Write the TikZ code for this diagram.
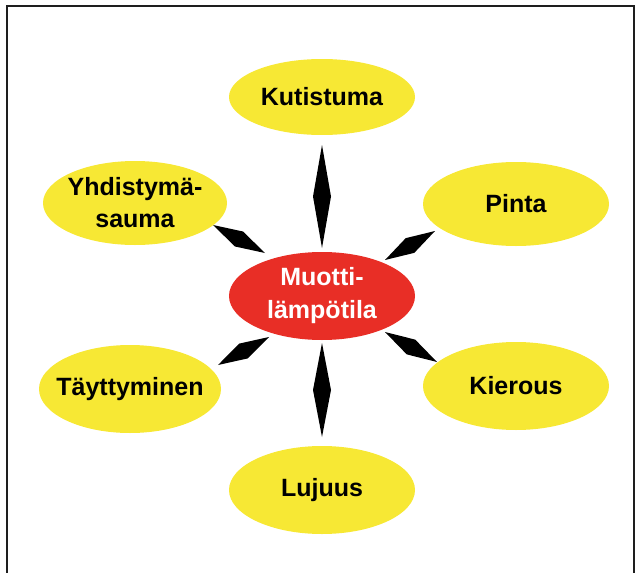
\documentclass[tikz,border=0pt]{standalone}
\usepackage{fontspec}
\setmainfont{Liberation Sans}
\usetikzlibrary{shapes.geometric,calc}
\definecolor{yel}{RGB}{247,232,52}
\definecolor{redc}{RGB}{232,46,38}
\definecolor{framec}{RGB}{30,30,30}
\tikzset{
  leaf/.style={ellipse, fill=yel, inner sep=0pt, minimum width=186pt, minimum height=86pt},
  hub/.style={ellipse, fill=redc, inner sep=0pt, minimum width=186pt, minimum height=88pt},
  leaftext/.style={font=\fontsize{25}{32}\selectfont\bfseries, text=black, align=center, inner sep=0pt},
  hubtext/.style={font=\fontsize{25}{33}\selectfont\bfseries, text=white, align=center, inner sep=0pt},
}
\newcommand{\spike}[3]{%
  \fill[black] (#1) -- ($($(#1)!0.5!(#2)$)!#3!90:(#2)$) -- (#2) -- ($($(#1)!0.5!(#2)$)!#3!-90:(#2)$) -- cycle;}
\begin{document}
\begin{tikzpicture}[x=1pt,y=-1pt]
\useasboundingbox (0,0) rectangle (643,573);
\draw[framec, line width=1.4pt] (7,573) -- (7,6) -- (634,6) -- (634,573);
\node[hub, label={[hubtext]center:Muotti-\\lämpötila}] (c) at (322,296) {};
\node[leaf, minimum height=76pt, label={[leaftext]center:Kutistuma}] (k) at (322,97) {};
\node[leaf, minimum width=184pt, minimum height=84pt, label={[leaftext]center:Yhdistymä-\\sauma}] (y) at (135,203) {};
\node[leaf, minimum height=84pt, label={[leaftext]center:Pinta}] (p) at (516,204) {};
\node[leaf, minimum width=182pt, minimum height=88pt, label={[leaftext]center:Täyttyminen}] (t) at (130,389) {};
\node[leaf, minimum height=88pt, label={[leaftext]center:Kierous}] (ki) at (516,386) {};
\node[leaf, minimum height=88pt, label={[leaftext]center:Lujuus}] (l) at (322,490) {};
% spike end points
\coordinate (kA) at (322,145); \coordinate (kB) at (322,248);
\coordinate (lA) at (322,343); \coordinate (lB) at (322,437);
\coordinate (yA) at (213,225); \coordinate (yB) at (265,253);
\coordinate (pA) at (435,231); \coordinate (pB) at (385,260);
\coordinate (tA) at (218,365); \coordinate (tB) at (269,337);
\coordinate (kiA) at (437,362); \coordinate (kiB) at (385,332);
\spike{kA}{kB}{9pt}
\spike{lB}{lA}{9pt}
\spike{yA}{yB}{8.5pt}
\spike{pA}{pB}{8.5pt}
\spike{tA}{tB}{8.5pt}
\spike{kiA}{kiB}{8.5pt}
\end{tikzpicture}
\end{document}
